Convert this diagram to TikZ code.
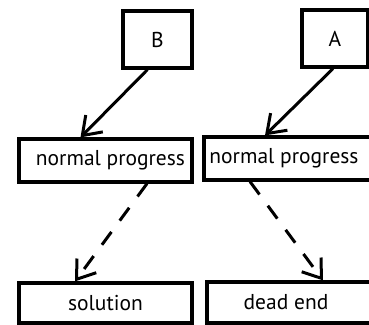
\documentclass[tikz,border=0pt]{standalone}
\usepackage{fontspec}
\setmainfont{PT Sans}
\usetikzlibrary{arrows.meta}
\begin{document}
\begin{tikzpicture}[x=1pt,y=-1pt,
  box/.style={draw=black,line width=3.2pt,rectangle,inner sep=0pt,font=\fontsize{21.5}{24}\selectfont},
  conn/.style={line width=3pt,-{Straight Barb[length=17pt,width=24pt,line width=3pt]}},
  dconn/.style={conn,dash pattern=on 16pt off 14pt}]
\useasboundingbox (0,0) rectangle (369,324);
\node[box,minimum width=69pt,minimum height=57pt] (B) at (157.5,39.5) {B};
\node[box,minimum width=66pt,minimum height=57pt] (A) at (335,38.5) {A};
\node[box,minimum width=173pt,minimum height=43pt] (npL) at (105.5,160.5) {\hspace*{10pt}normal progress};
\node[box,minimum width=168pt,minimum height=43pt] (npR) at (288,158.5) {normal progress\hspace*{8pt}};
\node[box,minimum width=173pt,minimum height=40pt] (sol) at (105.5,303) {solution};
\node[box,minimum width=164pt,minimum height=41pt] (dead) at (289,302.5) {dead end\hspace*{6pt}};
\draw[conn] ([xshift=-10pt]B.south) -- ([xshift=-25pt]npL.north);
\draw[conn] ([xshift=-2pt]A.south) -- ([xshift=-23pt]npR.north);
\draw[dconn] ([xshift=41.5pt]npL.south) -- ([xshift=-30.5pt]sol.north);
\draw[dconn] ([xshift=-38pt]npR.south) -- ([xshift=34pt]dead.north);
\end{tikzpicture}
\end{document}
